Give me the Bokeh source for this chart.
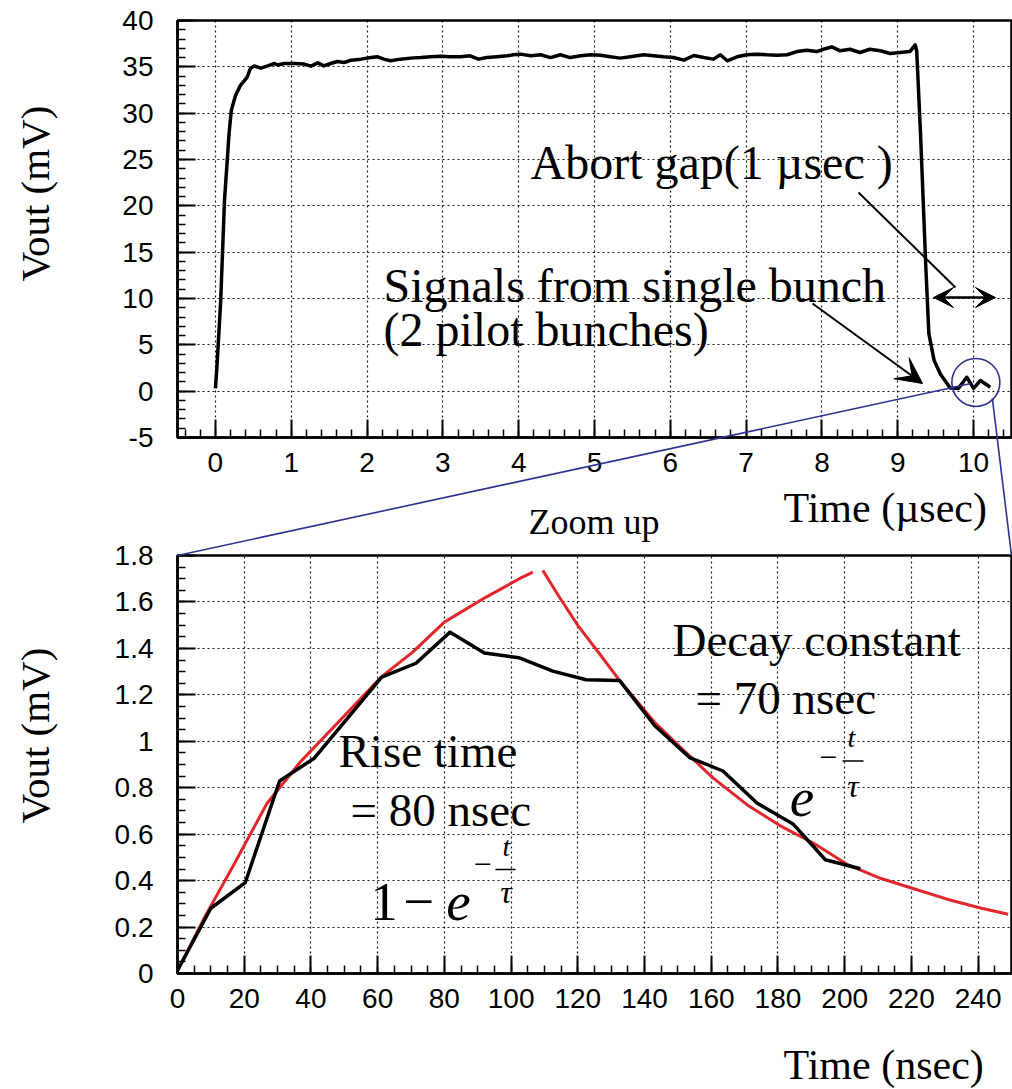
import numpy as np
from bokeh.plotting import figure
from bokeh.models import (Range1d, SingleIntervalTicker, Label, Arrow, VeeHead,
                          CustomJSTickFormatter)
from bokeh.layouts import column
from bokeh.embed import file_html
from bokeh.resources import INLINE

# ---------------- data ----------------
# full waveform (time in usec, Vout in mV)
wave_t = [0.00, 0.02, 0.07, 0.12, 0.18, 0.21, 0.265, 0.33, 0.42, 0.46, 0.51, 0.60, 0.69, 0.78,
          0.82, 0.91, 1.04, 1.17, 1.26, 1.35, 1.43, 1.52, 1.61, 1.70, 1.79, 1.92, 2.05, 2.14,
          2.22, 2.31, 2.44, 2.57, 2.71, 2.84, 2.97, 3.10, 3.23, 3.36, 3.47, 3.58, 3.71, 3.85,
          3.93, 4.02, 4.16, 4.29, 4.42, 4.55, 4.68, 4.82, 4.95, 5.08, 5.21, 5.34, 5.47, 5.65,
          5.78, 5.91, 6.04, 6.18, 6.31, 6.44, 6.57, 6.66, 6.75, 6.88, 7.01, 7.14, 7.27, 7.41,
          7.54, 7.67, 7.80, 7.93, 8.02, 8.13, 8.24, 8.37, 8.50, 8.63, 8.77, 8.90, 9.03, 9.16,
          9.23, 9.25, 9.30, 9.37, 9.41, 9.48, 9.56, 9.69, 9.80, 9.91, 10.00, 10.09, 10.22]
wave_v = [0.3, 2.6, 9.8, 20.6, 27.8, 30.3, 31.9, 33.0, 33.9, 34.8, 35.1, 34.86, 35.1, 35.36,
          35.2, 35.36, 35.36, 35.3, 35.07, 35.43, 35.1, 35.36, 35.58, 35.47, 35.72, 35.83, 36.0, 36.08,
          35.83, 35.65, 35.83, 35.94, 36.0, 36.08, 36.15, 36.08, 36.1, 36.19, 35.83, 36.0, 36.1, 36.19,
          36.3, 36.37, 36.19, 36.3, 36.0, 36.3, 36.0, 36.19, 36.3, 36.26, 36.08, 35.94, 36.08, 36.3,
          36.19, 36.08, 36.0, 35.72, 36.22, 36.0, 35.83, 36.3, 35.65, 36.08, 36.3, 36.37, 36.3, 36.26,
          36.3, 36.65, 36.8, 36.65, 36.9, 37.16, 36.73, 36.9, 36.55, 36.9, 36.73, 36.44, 36.55, 36.65,
          37.37, 36.7, 27.8, 13.4, 6.2, 3.3, 1.88, 0.35, 0.3, 1.5, 0.3, 1.15, 0.43]

# zoomed single-bunch signal (time in nsec, Vout in mV)
sig_t = [0, 10, 20.3, 30.6, 41, 51, 61.2, 71.5, 81.7, 92, 102.3, 112.5, 122.5, 132.5, 143,
         153.5, 163.5, 173.7, 184.5, 194.2, 204.7]
sig_v = [0.013, 0.281, 0.391, 0.829, 0.927, 1.10, 1.276, 1.336, 1.47, 1.38, 1.36, 1.302, 1.265,
         1.262, 1.068, 0.93, 0.872, 0.734, 0.644, 0.49, 0.451]

# red fitted curves as drawn
rise_t = [0, 8.3, 16.8, 26.8, 36.8, 48.8, 61, 70.5, 80, 92.5, 102.5, 106.5]
rise_v = [0.013, 0.247, 0.466, 0.732, 0.911, 1.091, 1.276, 1.384, 1.513, 1.621, 1.70, 1.728]
decay_t = [109.5, 114.5, 120, 126.5, 132.5, 143, 150.7, 160.7, 170.7, 180.7, 190.7, 200.7,
           210.7, 220.7, 230.7, 240.7, 249]
decay_v = [1.736, 1.62, 1.499, 1.377, 1.262, 1.082, 0.975, 0.84, 0.727, 0.636, 0.561, 0.47,
           0.41, 0.365, 0.32, 0.282, 0.255]

# marked region in the full waveform
circle_t = [10.03]
circle_v = [0.94]

TOP_X = (-0.5, 10.5)
TOP_Y = (-5, 40)
BOT_X = (0, 250)
BOT_Y = (0, 1.8)

SERIF = "Liberation Serif"
SANS = "Liberation Sans"
BLUE = "#2e3192"
RED = "#e3262c"

# ---------------- page geometry ----------------
W, H = 1012, 1089
FL, FW = 177, 834              # frame left / width (both panels)
T1, FH1 = 20, 417              # top frame
SPLIT = 492                    # page y where the bottom figure starts
T2, FH2 = 555, 418             # bottom frame
BASE_FIX = 0.38                # label anchor vs. drawn baseline, in em


def top_px(t): return FL + (t - TOP_X[0]) * FW / (TOP_X[1] - TOP_X[0])
def top_py(v): return T1 + (TOP_Y[1] - v) * FH1 / (TOP_Y[1] - TOP_Y[0])
def tx(px): return TOP_X[0] + (px - FL) * (TOP_X[1] - TOP_X[0]) / FW
def ty(py): return TOP_Y[1] - (py - T1) * (TOP_Y[1] - TOP_Y[0]) / FH1
def bx(px): return BOT_X[0] + (px - FL) * (BOT_X[1] - BOT_X[0]) / FW
def by(py): return BOT_Y[1] - (py - T2) * (BOT_Y[1] - BOT_Y[0]) / FH2
def ident(v): return v


fmt_code = "return String(Math.round(tick*10)/10);"


def style(p, xint, xmin, yint, ymin):
    xt = SingleIntervalTicker(interval=xint, num_minor_ticks=xmin)
    yt = SingleIntervalTicker(interval=yint, num_minor_ticks=ymin)
    p.xaxis.ticker = xt
    p.yaxis.ticker = yt
    p.xgrid.ticker = xt
    p.ygrid.ticker = yt
    for g in (p.xgrid, p.ygrid):
        g.grid_line_color = "black"
        g.grid_line_dash = "2 3"
        g.grid_line_width = 1.2
        g.grid_line_alpha = 0.9
    for ax in (p.xaxis, p.yaxis):
        ax.formatter = CustomJSTickFormatter(code=fmt_code)
        ax.major_tick_in = 18
        ax.major_tick_out = 0
        ax.minor_tick_in = 8
        ax.minor_tick_out = 0
        ax.major_tick_line_width = 2
        ax.minor_tick_line_width = 1.5
        ax.major_tick_line_color = "black"
        ax.minor_tick_line_color = "black"
        ax.axis_line_width = 2.5
        ax.axis_line_color = "black"
        ax.major_label_text_font = SANS
        ax.major_label_text_font_size = "28px"
        ax.major_label_text_color = "black"
    p.xaxis.major_label_standoff = 15
    p.yaxis.major_label_standoff = 24
    p.outline_line_color = "black"
    p.outline_line_width = 2.5
    p.outline_line_alpha = 1
    p.background_fill_color = "white"
    p.border_fill_color = "white"


def text(p, fx, fy, px, py, s, size, italic=False, align="left", angle=0.0):
    """Place text so that its baseline lands at page pixel (px, py)."""
    shift = BASE_FIX * size
    if angle == 0.0:
        py = py - shift
    else:
        px = px - shift
    p.add_layout(Label(x=fx(px), y=fy(py), text=s, text_font=SERIF,
                       text_font_size=f"{size}px",
                       text_font_style="italic" if italic else "normal",
                       text_align=align, text_baseline="alphabetic",
                       text_color="black", angle=angle))


# ---------------- top figure ----------------
top = figure(frame_width=FW, frame_height=FH1, min_border_left=FL, min_border_right=W - FL - FW,
             min_border_top=T1, min_border_bottom=SPLIT - T1 - FH1,
             x_range=Range1d(*TOP_X), y_range=Range1d(*TOP_Y),
             toolbar_location=None, output_backend="svg", title=None)
style(top, 1, 5, 5, 5)

top.line(wave_t, wave_v, line_color="black", line_width=3.5, line_join="round")
top.scatter(circle_t, circle_v, marker="circle", size=48, fill_color=None,
            line_color=BLUE, line_width=1.6)

text(top, tx, ty, 530, 180, "Abort gap(1 µsec )", 48)
text(top, tx, ty, 383, 303, "Signals from single bunch", 48)
text(top, tx, ty, 383, 347, "(2 pilot bunches)", 48)

top.add_layout(Arrow(end=None, x_start=tx(858), y_start=ty(192), x_end=tx(955), y_end=ty(287),
                     line_color="black", line_width=2))
top.add_layout(Arrow(start=VeeHead(size=20, fill_color="black", line_color="black"),
                     end=VeeHead(size=20, fill_color="black", line_color="black"),
                     x_start=tx(933), y_start=ty(297), x_end=tx(995), y_end=ty(297),
                     line_color="black", line_width=2.5))
top.add_layout(Arrow(end=VeeHead(size=26, fill_color="black", line_color="black"),
                     x_start=tx(812), y_start=ty(303), x_end=tx(922), y_end=ty(383),
                     line_color="black", line_width=2))

# ---------------- bottom figure ----------------
bot = figure(frame_width=FW, frame_height=FH2, min_border_left=FL, min_border_right=W - FL - FW,
             min_border_top=T2 - SPLIT, min_border_bottom=H - T2 - FH2,
             x_range=Range1d(*BOT_X), y_range=Range1d(*BOT_Y),
             toolbar_location=None, output_backend="svg", title=None)
style(bot, 20, 4, 0.2, 4)

bot.line(rise_t, rise_v, line_color=RED, line_width=3)
bot.line(decay_t, decay_v, line_color=RED, line_width=3)
bot.line(sig_t, sig_v, line_color="black", line_width=3.5, line_join="round")

text(bot, bx, by, 338, 768, "Rise time", 47)
text(bot, bx, by, 350, 827, "= 80 nsec", 47)
text(bot, bx, by, 672, 657, "Decay constant", 47)
text(bot, bx, by, 695, 715, "= 70 nsec", 47)

# 1 - e^{-t/tau}
text(bot, bx, by, 383.5, 922, "1", 55, align="center")
text(bot, bx, by, 418, 922, "−", 55, align="center")
text(bot, bx, by, 458, 922, "e", 55, italic=True, align="center")
text(bot, bx, by, 482, 876, "−", 32, align="center")
text(bot, bx, by, 506, 857, "t", 28, italic=True, align="center")
text(bot, bx, by, 505.5, 904, "τ", 32, italic=True, align="center")
bot.add_layout(Arrow(end=None, x_start=bx(495), y_start=by(869), x_end=bx(515), y_end=by(869),
                     line_color="black", line_width=1.5))
# e^{-t/tau}
text(bot, bx, by, 801.5, 818, "e", 55, italic=True, align="center")
text(bot, bx, by, 827.5, 769, "−", 32, align="center")
text(bot, bx, by, 851, 748, "t", 28, italic=True, align="center")
text(bot, bx, by, 852.5, 798, "τ", 32, italic=True, align="center")
bot.add_layout(Arrow(end=None, x_start=bx(842), y_start=by(760.5), x_end=bx(863), y_end=by(760.5),
                     line_color="black", line_width=1.5))

# ---------------- transparent overlay (page pixel coordinates) ----------------
ov = figure(width=W, height=H, x_range=Range1d(0, W), y_range=Range1d(H, 0), min_border=0,
            x_axis_location=None, y_axis_location=None, toolbar_location=None,
            output_backend="svg", title=None,
            styles={"position": "absolute", "left": "0px", "top": "0px",
                    "z-index": "10", "pointer-events": "none"})
ov.grid.visible = False
ov.outline_line_color = None
ov.background_fill_alpha = 0
ov.border_fill_alpha = 0

cx, cy = top_px(circle_t[0]), top_py(circle_v[0])
ov.line([cx - 5, FL], [cy + 1, T2], line_color=BLUE, line_width=1.6)
ov.line([cx + 16.5, FL + FW], [cy + 16, T2], line_color=BLUE, line_width=1.6)

text(ov, ident, ident, 50, 193, "Vout (mV)", 41, align="center", angle=np.pi / 2)
text(ov, ident, ident, 50, 735, "Vout (mV)", 41, align="center", angle=np.pi / 2)
text(ov, ident, ident, 783, 523, "Time (µsec)", 42)
text(ov, ident, ident, 528, 535, "Zoom up", 36)
text(ov, ident, ident, 783, 1080, "Time (nsec)", 42)

plots = column(top, bot, spacing=0)
open("out.html", "w").write(file_html([plots, ov], INLINE))
